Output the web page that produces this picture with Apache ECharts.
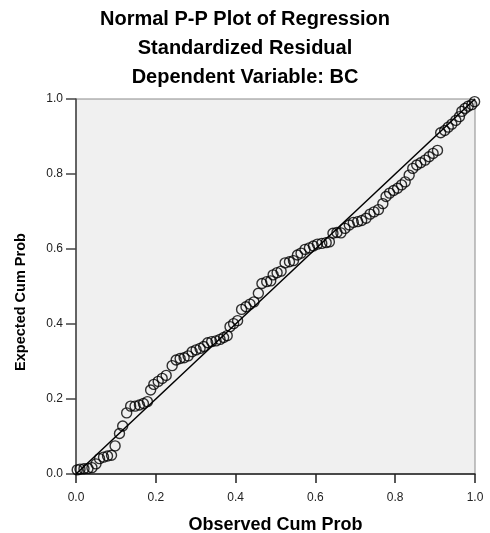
<!DOCTYPE html>
<html>
<head>
<meta charset="utf-8">
<script src="https://cdn.jsdelivr.net/npm/echarts@6/dist/echarts.min.js"></script>
<style>
  html, body { margin: 0; padding: 0; background: #fff; }
  #chart { width: 490px; height: 533px; }
</style>
</head>
<body>
<div id="chart"></div>
<script>
// observed cum prob (x) / expected cum prob (y)
const observed = [
  0.003, 0.010, 0.020, 0.030, 0.040, 0.050, 0.059, 0.069, 0.079, 0.089,
  0.098, 0.109, 0.117, 0.127, 0.137, 0.148, 0.159, 0.169, 0.179, 0.187,
  0.195, 0.206, 0.216, 0.226, 0.241, 0.251, 0.261, 0.271, 0.281, 0.291,
  0.301, 0.311, 0.320, 0.330, 0.340, 0.351, 0.361, 0.370, 0.379, 0.386,
  0.395, 0.405, 0.415, 0.426, 0.436, 0.446, 0.457, 0.466, 0.478, 0.488,
  0.494, 0.504, 0.514, 0.524, 0.535, 0.545, 0.555, 0.564, 0.574, 0.585,
  0.595, 0.605, 0.616, 0.627, 0.635, 0.644, 0.654, 0.664, 0.674, 0.685,
  0.695, 0.706, 0.716, 0.727, 0.737, 0.747, 0.758, 0.769, 0.777, 0.786,
  0.796, 0.806, 0.816, 0.825, 0.835, 0.844, 0.854, 0.864, 0.875, 0.885,
  0.895, 0.906, 0.914, 0.924, 0.933, 0.942, 0.952, 0.961, 0.967, 0.975,
  0.983, 0.992, 0.999
]
const expected = [
  0.011, 0.013, 0.014, 0.015, 0.017, 0.027, 0.041, 0.045, 0.048, 0.050,
  0.075, 0.108, 0.128, 0.163, 0.181, 0.181, 0.184, 0.188, 0.193, 0.224,
  0.239, 0.247, 0.255, 0.263, 0.289, 0.304, 0.308, 0.310, 0.315, 0.326,
  0.331, 0.335, 0.340, 0.350, 0.353, 0.355, 0.359, 0.364, 0.369, 0.393,
  0.401, 0.409, 0.439, 0.446, 0.453, 0.459, 0.482, 0.508, 0.513, 0.515,
  0.531, 0.537, 0.541, 0.563, 0.566, 0.569, 0.584, 0.589, 0.599, 0.603,
  0.608, 0.613, 0.615, 0.617, 0.619, 0.642, 0.644, 0.643, 0.655, 0.664,
  0.671, 0.673, 0.676, 0.682, 0.693, 0.699, 0.705, 0.721, 0.740, 0.749,
  0.756, 0.762, 0.771, 0.779, 0.797, 0.815, 0.824, 0.830, 0.837, 0.846,
  0.855, 0.863, 0.910, 0.916, 0.925, 0.933, 0.943, 0.953, 0.967, 0.975,
  0.981, 0.985, 0.993
]
const refLine = [[0, 0], [1, 1]]

const titleLines = [
  'Normal P-P Plot of Regression',
  'Standardized Residual',
  'Dependent Variable: BC'
]

const points = observed.map((x, i) => [x, expected[i]])
const font = '"Liberation Sans", Arial, sans-serif'

const chart = echarts.init(document.getElementById('chart'))
const option = {
  animation: false,
  title: {
    text: titleLines.join('\n'),
    left: 'center',
    top: 0,
    textStyle: {
      fontFamily: font,
      fontSize: 20,
      fontWeight: 'bold',
      color: '#000',
      lineHeight: 29
    }
  },
  grid: {
    left: 76,
    right: 15,
    top: 99,
    bottom: 59,
    containLabel: false,
    outerBoundsMode: 'none',
    show: true,
    backgroundColor: '#f0f0f0',
    borderColor: '#8a8a8a',
    borderWidth: 1
  },
  xAxis: {
    type: 'value',
    min: 0,
    max: 1,
    interval: 0.2,
    name: 'Observed Cum Prob',
    nameLocation: 'middle',
    nameGap: 42,
    nameTextStyle: {
      fontFamily: font,
      fontSize: 18,
      fontWeight: 'bold',
      color: '#000'
    },
    splitLine: { show: false },
    axisLine: { lineStyle: { color: '#222', width: 1.5 } },
    axisTick: { length: 9, lineStyle: { color: '#222', width: 1.5 } },
    axisLabel: {
      margin: 18,
      fontFamily: font,
      fontSize: 12,
      color: '#222',
      formatter: v => v.toFixed(1)
    }
  },
  yAxis: {
    type: 'value',
    min: 0,
    max: 1,
    interval: 0.2,
    splitLine: { show: false },
    axisLine: { lineStyle: { color: '#444', width: 1.5 } },
    axisTick: { length: 10, lineStyle: { color: '#444', width: 1.5 } },
    axisLabel: {
      margin: 13,
      fontFamily: font,
      fontSize: 12,
      color: '#222',
      formatter: v => v.toFixed(1)
    }
  },
  graphic: [
    {
      type: 'text',
      x: 21,
      y: 302,
      rotation: Math.PI / 2,
      style: {
        text: 'Expected Cum Prob',
        fontFamily: font,
        fontSize: 14.5,
        fontWeight: 'bold',
        fill: '#000',
        align: 'center',
        verticalAlign: 'middle'
      }
    }
  ],
  series: [
    {
      type: 'line',
      data: refLine,
      symbol: 'none',
      lineStyle: { color: '#000', width: 1.5 },
      z: 3
    },
    {
      type: 'scatter',
      data: points,
      symbol: 'circle',
      symbolSize: 10,
      itemStyle: {
        color: 'rgba(0,0,0,0)',
        borderColor: '#000',
        borderWidth: 1.4
      },
      z: 2
    }
  ]
}
chart.setOption(option)
</script>
</body>
</html>
